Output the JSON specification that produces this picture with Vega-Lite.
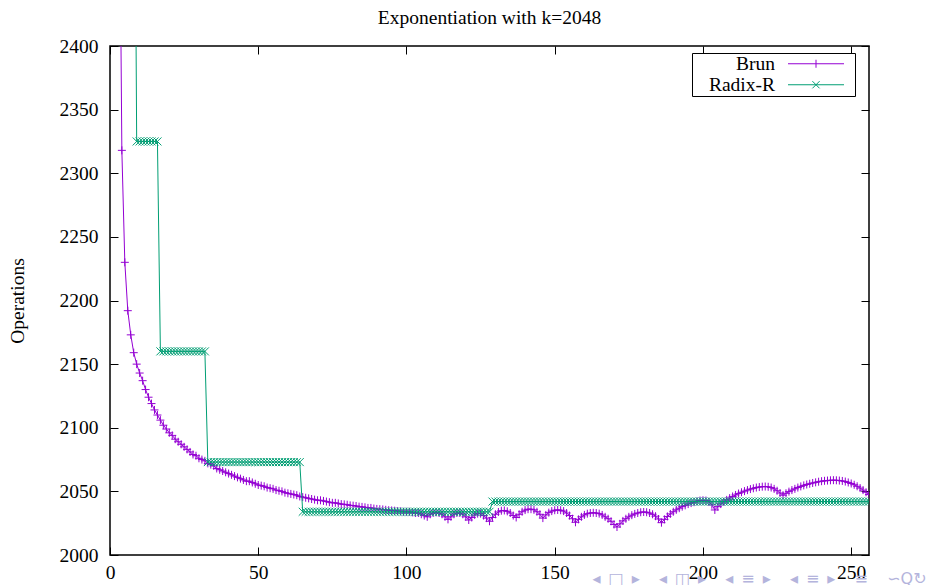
{
  "$schema": "https://vega.github.io/schema/vega-lite/v6.json",
  "width": 759,
  "height": 509,
  "autosize": {"type": "none"},
  "padding": {"left": 110, "top": 46, "right": 58, "bottom": 30},
  "background": "white",
  "title": {"text": "Exponentiation with k=2048", "font": "Liberation Serif", "fontSize": 19.5, "fontWeight": "normal", "color": "black", "anchor": "middle", "baseline": "alphabetic", "offset": 22, "dy": 29},
  "config": {
    "view": {"stroke": "black", "strokeWidth": 1.5},
    "axis": {"domain": false, "grid": false, "tickColor": "black", "tickWidth": 1, "tickSize": -8, "labelFont": "Liberation Serif", "labelFontSize": 19.5, "labelColor": "black", "titleFont": "Liberation Serif", "titleFontSize": 19.5, "titleFontWeight": "normal", "titleColor": "black", "format": "d"},
    "legend": {"orient": "none", "legendX": 582, "legendY": 7, "strokeColor": "black", "fillColor": "white", "padding": 1, "labelFont": "Liberation Serif", "labelFontSize": 19.5, "labelColor": "black", "symbolStrokeWidth": 1, "rowPadding": 0, "labelLimit": 0, "symbolSize": 64, "symbolOpacity": 1}
  },
  "data": {"values": [
    {"x":3,"Brun":2600},{"x":4,"Brun":2318},{"x":5,"Brun":2230},{"x":6,"Brun":2192},{"x":7,"Brun":2173},
    {"x":8,"Brun":2159,"Radix-R":2700},{"x":9,"Brun":2150,"Radix-R":2325},{"x":10,"Brun":2143,"Radix-R":2325},{"x":11,"Brun":2137,"Radix-R":2325},{"x":12,"Brun":2130,"Radix-R":2325},
    {"x":13,"Brun":2124,"Radix-R":2325},{"x":14,"Brun":2119,"Radix-R":2325},{"x":15,"Brun":2114,"Radix-R":2325},{"x":16,"Brun":2110,"Radix-R":2325},{"x":17,"Brun":2106,"Radix-R":2160},
    {"x":18,"Brun":2102,"Radix-R":2160},{"x":19,"Brun":2099,"Radix-R":2160},{"x":20,"Brun":2096,"Radix-R":2160},{"x":21,"Brun":2094,"Radix-R":2160},{"x":22,"Brun":2091,"Radix-R":2160},
    {"x":23,"Brun":2089,"Radix-R":2160},{"x":24,"Brun":2087,"Radix-R":2160},{"x":25,"Brun":2085,"Radix-R":2160},{"x":26,"Brun":2083,"Radix-R":2160},{"x":27,"Brun":2081,"Radix-R":2160},
    {"x":28,"Brun":2079,"Radix-R":2160},{"x":29,"Brun":2078,"Radix-R":2160},{"x":30,"Brun":2076,"Radix-R":2160},{"x":31,"Brun":2075,"Radix-R":2160},{"x":32,"Brun":2074,"Radix-R":2160},
    {"x":33,"Brun":2072,"Radix-R":2073},{"x":34,"Brun":2071,"Radix-R":2073},{"x":35,"Brun":2070,"Radix-R":2073},{"x":36,"Brun":2068,"Radix-R":2073},{"x":37,"Brun":2067,"Radix-R":2073},
    {"x":38,"Brun":2066,"Radix-R":2073},{"x":39,"Brun":2065,"Radix-R":2073},{"x":40,"Brun":2064,"Radix-R":2073},{"x":41,"Brun":2063,"Radix-R":2073},{"x":42,"Brun":2062,"Radix-R":2073},
    {"x":43,"Brun":2061,"Radix-R":2073},{"x":44,"Brun":2060,"Radix-R":2073},{"x":45,"Brun":2059,"Radix-R":2073},{"x":46,"Brun":2058,"Radix-R":2073},{"x":47,"Brun":2058,"Radix-R":2073},
    {"x":48,"Brun":2057,"Radix-R":2073},{"x":49,"Brun":2056,"Radix-R":2073},{"x":50,"Brun":2055,"Radix-R":2073},{"x":51,"Brun":2054.5,"Radix-R":2073},{"x":52,"Brun":2054,"Radix-R":2073},
    {"x":53,"Brun":2053,"Radix-R":2073},{"x":54,"Brun":2052.5,"Radix-R":2073},{"x":55,"Brun":2052,"Radix-R":2073},{"x":56,"Brun":2051,"Radix-R":2073},{"x":57,"Brun":2050.5,"Radix-R":2073},
    {"x":58,"Brun":2050,"Radix-R":2073},{"x":59,"Brun":2049,"Radix-R":2073},{"x":60,"Brun":2048.5,"Radix-R":2073},{"x":61,"Brun":2048,"Radix-R":2073},{"x":62,"Brun":2047.5,"Radix-R":2073},
    {"x":63,"Brun":2047,"Radix-R":2073},{"x":64,"Brun":2046,"Radix-R":2073},{"x":65,"Brun":2045.5,"Radix-R":2034},{"x":66,"Brun":2045,"Radix-R":2034},{"x":67,"Brun":2044.5,"Radix-R":2034},
    {"x":68,"Brun":2044,"Radix-R":2034},{"x":69,"Brun":2043.5,"Radix-R":2034},{"x":70,"Brun":2043,"Radix-R":2034},{"x":71,"Brun":2043,"Radix-R":2034},{"x":72,"Brun":2042.5,"Radix-R":2034},
    {"x":73,"Brun":2042,"Radix-R":2034},{"x":74,"Brun":2041.5,"Radix-R":2034},{"x":75,"Brun":2041,"Radix-R":2034},{"x":76,"Brun":2041,"Radix-R":2034},{"x":77,"Brun":2040.5,"Radix-R":2034},
    {"x":78,"Brun":2040,"Radix-R":2034},{"x":79,"Brun":2039.8,"Radix-R":2034},{"x":80,"Brun":2039.5,"Radix-R":2034},{"x":81,"Brun":2039,"Radix-R":2034},{"x":82,"Brun":2038.8,"Radix-R":2034},
    {"x":83,"Brun":2038.5,"Radix-R":2034},{"x":84,"Brun":2038,"Radix-R":2034},{"x":85,"Brun":2037.8,"Radix-R":2034},{"x":86,"Brun":2037.5,"Radix-R":2034},{"x":87,"Brun":2037,"Radix-R":2034},
    {"x":88,"Brun":2037,"Radix-R":2034},{"x":89,"Brun":2036.5,"Radix-R":2034},{"x":90,"Brun":2036.2,"Radix-R":2034},{"x":91,"Brun":2036,"Radix-R":2034},{"x":92,"Brun":2035.8,"Radix-R":2034},
    {"x":93,"Brun":2035.5,"Radix-R":2034},{"x":94,"Brun":2035.2,"Radix-R":2034},{"x":95,"Brun":2035,"Radix-R":2034},{"x":96,"Brun":2034.8,"Radix-R":2034},{"x":97,"Brun":2034.5,"Radix-R":2034},
    {"x":98,"Brun":2034.3,"Radix-R":2034},{"x":99,"Brun":2034,"Radix-R":2034},{"x":100,"Brun":2034,"Radix-R":2034},{"x":101,"Brun":2034,"Radix-R":2034},{"x":102,"Brun":2033.5,"Radix-R":2034},
    {"x":103,"Brun":2033,"Radix-R":2034},{"x":104,"Brun":2033,"Radix-R":2034},{"x":105,"Brun":2032,"Radix-R":2034},{"x":106,"Brun":2031,"Radix-R":2034},{"x":107,"Brun":2030,"Radix-R":2034},
    {"x":108,"Brun":2032,"Radix-R":2034},{"x":109,"Brun":2033,"Radix-R":2034},{"x":110,"Brun":2033.5,"Radix-R":2034},{"x":111,"Brun":2033,"Radix-R":2034},{"x":112,"Brun":2032,"Radix-R":2034},
    {"x":113,"Brun":2030,"Radix-R":2034},{"x":114,"Brun":2028,"Radix-R":2034},{"x":115,"Brun":2030,"Radix-R":2034},{"x":116,"Brun":2032,"Radix-R":2034},{"x":117,"Brun":2033,"Radix-R":2034},
    {"x":118,"Brun":2033,"Radix-R":2034},{"x":119,"Brun":2032,"Radix-R":2034},{"x":120,"Brun":2030,"Radix-R":2034},{"x":121,"Brun":2027.5,"Radix-R":2034},{"x":122,"Brun":2029.5,"Radix-R":2034},
    {"x":123,"Brun":2031.5,"Radix-R":2034},{"x":124,"Brun":2032.5,"Radix-R":2034},{"x":125,"Brun":2032.5,"Radix-R":2034},{"x":126,"Brun":2031,"Radix-R":2034},{"x":127,"Brun":2029,"Radix-R":2034},
    {"x":128,"Brun":2026.5,"Radix-R":2034},{"x":129,"Brun":2029.5,"Radix-R":2042},{"x":130,"Brun":2032,"Radix-R":2042},{"x":131,"Brun":2033.8,"Radix-R":2042},{"x":132,"Brun":2034.8,"Radix-R":2042},
    {"x":133,"Brun":2035,"Radix-R":2042},{"x":134,"Brun":2034.3,"Radix-R":2042},{"x":135,"Brun":2033,"Radix-R":2042},{"x":136,"Brun":2031,"Radix-R":2042},{"x":137,"Brun":2029.5,"Radix-R":2042},
    {"x":138,"Brun":2032,"Radix-R":2042},{"x":139,"Brun":2034,"Radix-R":2042},{"x":140,"Brun":2035.3,"Radix-R":2042},{"x":141,"Brun":2036,"Radix-R":2042},{"x":142,"Brun":2036,"Radix-R":2042},
    {"x":143,"Brun":2035.5,"Radix-R":2042},{"x":144,"Brun":2034,"Radix-R":2042},{"x":145,"Brun":2032,"Radix-R":2042},{"x":146,"Brun":2029,"Radix-R":2042},{"x":147,"Brun":2031.5,"Radix-R":2042},
    {"x":148,"Brun":2033.3,"Radix-R":2042},{"x":149,"Brun":2034.5,"Radix-R":2042},{"x":150,"Brun":2035.2,"Radix-R":2042},{"x":151,"Brun":2035.4,"Radix-R":2042},{"x":152,"Brun":2035.2,"Radix-R":2042},
    {"x":153,"Brun":2034.5,"Radix-R":2042},{"x":154,"Brun":2033,"Radix-R":2042},{"x":155,"Brun":2031,"Radix-R":2042},{"x":156,"Brun":2028.5,"Radix-R":2042},{"x":157,"Brun":2025.7,"Radix-R":2042},
    {"x":158,"Brun":2028,"Radix-R":2042},{"x":159,"Brun":2030,"Radix-R":2042},{"x":160,"Brun":2031.5,"Radix-R":2042},{"x":161,"Brun":2032.5,"Radix-R":2042},{"x":162,"Brun":2033,"Radix-R":2042},
    {"x":163,"Brun":2033.2,"Radix-R":2042},{"x":164,"Brun":2033,"Radix-R":2042},{"x":165,"Brun":2032.5,"Radix-R":2042},{"x":166,"Brun":2031.5,"Radix-R":2042},{"x":167,"Brun":2030,"Radix-R":2042},
    {"x":168,"Brun":2028.5,"Radix-R":2042},{"x":169,"Brun":2026.5,"Radix-R":2042},{"x":170,"Brun":2024,"Radix-R":2042},{"x":171,"Brun":2022,"Radix-R":2042},{"x":172,"Brun":2024.5,"Radix-R":2042},
    {"x":173,"Brun":2026.8,"Radix-R":2042},{"x":174,"Brun":2028.5,"Radix-R":2042},{"x":175,"Brun":2030,"Radix-R":2042},{"x":176,"Brun":2031.3,"Radix-R":2042},{"x":177,"Brun":2032.3,"Radix-R":2042},
    {"x":178,"Brun":2033,"Radix-R":2042},{"x":179,"Brun":2033.6,"Radix-R":2042},{"x":180,"Brun":2033.8,"Radix-R":2042},{"x":181,"Brun":2033.6,"Radix-R":2042},{"x":182,"Brun":2033,"Radix-R":2042},
    {"x":183,"Brun":2032,"Radix-R":2042},{"x":184,"Brun":2030.5,"Radix-R":2042},{"x":185,"Brun":2028.3,"Radix-R":2042},{"x":186,"Brun":2025.4,"Radix-R":2042},{"x":187,"Brun":2028,"Radix-R":2042},
    {"x":188,"Brun":2030.3,"Radix-R":2042},{"x":189,"Brun":2032.3,"Radix-R":2042},{"x":190,"Brun":2034,"Radix-R":2042},{"x":191,"Brun":2035.5,"Radix-R":2042},{"x":192,"Brun":2036.8,"Radix-R":2042},
    {"x":193,"Brun":2038,"Radix-R":2042},{"x":194,"Brun":2039,"Radix-R":2042},{"x":195,"Brun":2040,"Radix-R":2042},{"x":196,"Brun":2040.8,"Radix-R":2042},{"x":197,"Brun":2041.5,"Radix-R":2042},
    {"x":198,"Brun":2042.2,"Radix-R":2042},{"x":199,"Brun":2042.8,"Radix-R":2042},{"x":200,"Brun":2043,"Radix-R":2042},{"x":201,"Brun":2042.8,"Radix-R":2042},{"x":202,"Brun":2041.8,"Radix-R":2042},
    {"x":203,"Brun":2039.5,"Radix-R":2042},{"x":204,"Brun":2035.4,"Radix-R":2042},{"x":205,"Brun":2038,"Radix-R":2042},{"x":206,"Brun":2040,"Radix-R":2042},{"x":207,"Brun":2041.8,"Radix-R":2042},
    {"x":208,"Brun":2043.3,"Radix-R":2042},{"x":209,"Brun":2044.7,"Radix-R":2042},{"x":210,"Brun":2046,"Radix-R":2042},{"x":211,"Brun":2047.2,"Radix-R":2042},{"x":212,"Brun":2048.3,"Radix-R":2042},
    {"x":213,"Brun":2049.3,"Radix-R":2042},{"x":214,"Brun":2050.2,"Radix-R":2042},{"x":215,"Brun":2051,"Radix-R":2042},{"x":216,"Brun":2051.8,"Radix-R":2042},{"x":217,"Brun":2052.4,"Radix-R":2042},
    {"x":218,"Brun":2053,"Radix-R":2042},{"x":219,"Brun":2053.4,"Radix-R":2042},{"x":220,"Brun":2053.7,"Radix-R":2042},{"x":221,"Brun":2053.8,"Radix-R":2042},{"x":222,"Brun":2053.6,"Radix-R":2042},
    {"x":223,"Brun":2053,"Radix-R":2042},{"x":224,"Brun":2052,"Radix-R":2042},{"x":225,"Brun":2050.5,"Radix-R":2042},{"x":226,"Brun":2048.7,"Radix-R":2042},{"x":227,"Brun":2047,"Radix-R":2042},
    {"x":228,"Brun":2048.5,"Radix-R":2042},{"x":229,"Brun":2049.8,"Radix-R":2042},{"x":230,"Brun":2051,"Radix-R":2042},{"x":231,"Brun":2052,"Radix-R":2042},{"x":232,"Brun":2053,"Radix-R":2042},
    {"x":233,"Brun":2053.9,"Radix-R":2042},{"x":234,"Brun":2054.7,"Radix-R":2042},{"x":235,"Brun":2055.4,"Radix-R":2042},{"x":236,"Brun":2056,"Radix-R":2042},{"x":237,"Brun":2056.6,"Radix-R":2042},
    {"x":238,"Brun":2057.1,"Radix-R":2042},{"x":239,"Brun":2057.6,"Radix-R":2042},{"x":240,"Brun":2058,"Radix-R":2042},{"x":241,"Brun":2058.3,"Radix-R":2042},{"x":242,"Brun":2058.5,"Radix-R":2042},
    {"x":243,"Brun":2058.7,"Radix-R":2042},{"x":244,"Brun":2058.8,"Radix-R":2042},{"x":245,"Brun":2058.7,"Radix-R":2042},{"x":246,"Brun":2058.5,"Radix-R":2042},{"x":247,"Brun":2058.2,"Radix-R":2042},
    {"x":248,"Brun":2057.7,"Radix-R":2042},{"x":249,"Brun":2057,"Radix-R":2042},{"x":250,"Brun":2056.2,"Radix-R":2042},{"x":251,"Brun":2055.2,"Radix-R":2042},{"x":252,"Brun":2054,"Radix-R":2042},
    {"x":253,"Brun":2052.6,"Radix-R":2042},{"x":254,"Brun":2051,"Radix-R":2042},{"x":255,"Brun":2049.3,"Radix-R":2042},{"x":256,"Brun":2047.5,"Radix-R":2042}
  ]},
  "transform": [
    {"fold": ["Brun", "Radix-R"], "as": ["series", "ops"]},
    {"filter": "isValid(datum.ops)"}
  ],
  "resolve": {"axis": {"x": "independent", "y": "independent"}},
  "layer": [
    {
      "transform": [{"filter": "datum.series === 'Brun'"}],
      "mark": {"type": "line", "clip": true, "strokeWidth": 1},
      "encoding": {
        "x": {"field": "x", "type": "quantitative", "scale": {"domain": [0, 256], "nice": false, "zero": false},
              "axis": {"orient": "bottom", "values": [0, 50, 100, 150, 200, 250], "format": "d", "labelFont": "Liberation Serif", "labelPadding": 16, "labelFlush": false,
                       "title": "◂\u2002□\u2002▸\u2003\u2009◂\u2002◫\u2002▸\u2003\u2009◂\u2002≡\u2002▸\u2003\u2009◂\u2002≡\u2002▸\u2003\u2009≡\u2003\u2009∽Q↻", "titleFont": "DejaVu Sans", "titleFontSize": 16, "titleColor": "#b4b4dc", "titleAnchor": "start", "titleAlign": "left", "titleBaseline": "middle", "titleX": 482, "titleY": 23}},
        "y": {"field": "ops", "type": "quantitative", "scale": {"domain": [2000, 2400], "nice": false, "zero": false},
              "axis": {"orient": "left", "values": [2000, 2050, 2100, 2150, 2200, 2250, 2300, 2350, 2400], "format": "d", "labelFont": "Liberation Serif", "labelPadding": 20, "labelFlush": false,
                       "title": "Operations", "titleX": -93, "titleY": 254.5, "titleAngle": -90, "titleAlign": "center", "titleBaseline": "middle"}},
        "color": {"field": "series", "type": "nominal", "scale": {"domain": ["Brun", "Radix-R"], "range": ["#9400D3", "#009E73"]},
          "legend": {"title": null, "encode": {
            "symbols": {"update": {"shape": {"signal": "datum.value === 'Brun' ? 'M-30.75,0M8.8,0M-7,0L7,0M0,-1L0,1' : 'M-30.75,0M8.8,0M-7,0L7,0M-0.9,-0.9L0.9,0.9M-0.9,0.9L0.9,-0.9'"}, "x": {"value": 123}, "size": {"value": 64}, "strokeWidth": {"value": 1}, "fill": {"value": "transparent"}}},
            "labels": {"update": {"x": {"value": 82}, "align": {"value": "right"}}}}}}
      }
    },
    {
      "transform": [{"filter": "datum.series === 'Brun'"}],
      "mark": {"type": "point", "clip": true, "filled": false, "strokeWidth": 1, "opacity": 1, "size": 64, "shape": "M-1,0L1,0M0,-1L0,1"},
      "encoding": {
        "x": {"field": "x", "type": "quantitative", "axis": null},
        "y": {"field": "ops", "type": "quantitative", "axis": null},
        "color": {"field": "series", "type": "nominal"}
      }
    },
    {
      "transform": [{"filter": "datum.series === 'Radix-R'"}],
      "mark": {"type": "line", "clip": true, "strokeWidth": 1},
      "encoding": {
        "x": {"field": "x", "type": "quantitative", "axis": null},
        "y": {"field": "ops", "type": "quantitative", "axis": null},
        "color": {"field": "series", "type": "nominal"}
      }
    },
    {
      "transform": [{"filter": "datum.series === 'Radix-R'"}],
      "mark": {"type": "point", "clip": true, "filled": false, "strokeWidth": 1, "opacity": 1, "size": 64, "shape": "M-1,-1L1,1M-1,1L1,-1"},
      "encoding": {
        "x": {"field": "x", "type": "quantitative", "axis": {"orient": "top", "values": [0, 50, 100, 150, 200, 250], "labels": false, "title": null}},
        "y": {"field": "ops", "type": "quantitative", "axis": {"orient": "right", "values": [2000, 2050, 2100, 2150, 2200, 2250, 2300, 2350, 2400], "labels": false, "title": null}},
        "color": {"field": "series", "type": "nominal"}
      }
    }
  ]
}
